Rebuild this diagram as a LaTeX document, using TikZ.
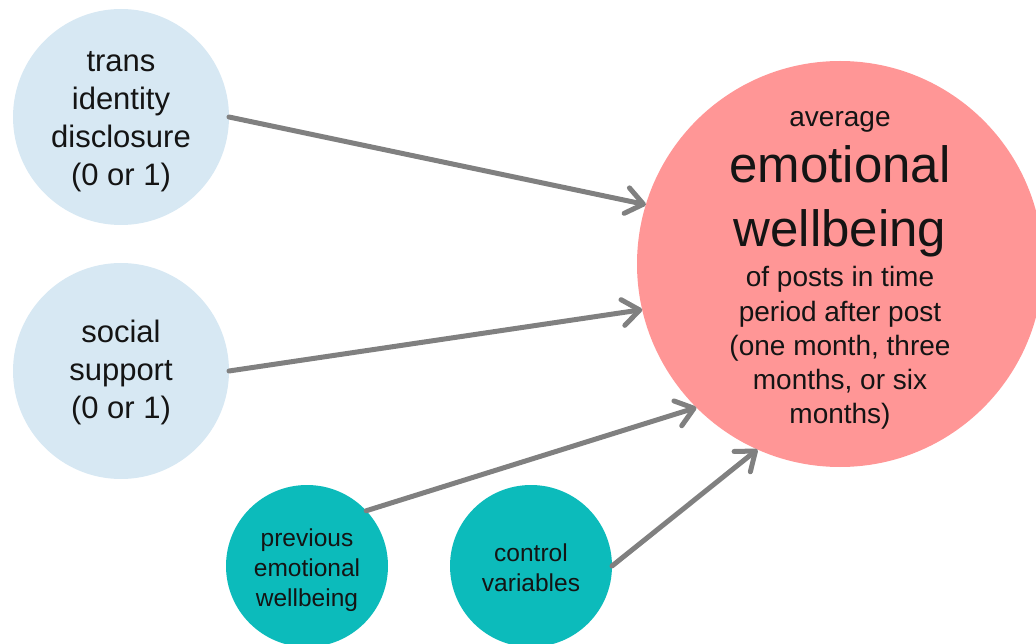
\documentclass[tikz,border=0pt]{standalone}
\usepackage{fontspec}
\setmainfont{Liberation Sans}
\usetikzlibrary{arrows.meta}
\definecolor{lblue}{RGB}{215,232,243}
\definecolor{salmon}{RGB}{255,150,150}
\definecolor{tealc}{RGB}{12,187,187}
\definecolor{agray}{RGB}{128,128,128}
\definecolor{tcol}{RGB}{20,20,20}
\begin{document}
\begin{tikzpicture}[x=1pt,y=-1pt,
  inp/.style={circle,fill=lblue,minimum size=216pt,inner sep=0pt,outer sep=0pt},
  inptext/.style={inner sep=0pt,outer sep=0pt,align=center,text=tcol,font=\fontsize{31}{38}\selectfont},
  ctl/.style={circle,fill=tealc,minimum size=162pt,inner sep=0pt,outer sep=0pt},
  ctltext/.style={inner sep=0pt,outer sep=0pt,align=center,text=tcol,font=\fontsize{24.5}{30}\selectfont},
  outc/.style={circle,fill=salmon,minimum size=406pt,inner sep=0pt,outer sep=0pt},
  txt/.style={anchor=base,inner sep=0pt,outer sep=0pt,text=tcol},
  small/.style={font=\fontsize{28}{34}\selectfont},
  big/.style={font=\fontsize{51}{62}\selectfont},
  conn/.style={draw=agray,line width=5pt,line cap=round,-{Straight Barb[length=17pt,width=26pt,round]}}]
\useasboundingbox (0,0) rectangle (1036,644);
\node[inp] (disc) at (121,117) {};
\node[inptext] (disct) at (121,122) {trans\\identity\\disclosure\\(0 or 1)};
\node[inp] (supp) at (121,371) {};
\node[inptext] (suppt) at (121,372) {social\\support\\(0 or 1)};
\node[ctl] (prev) at (307,566) {};
\node[ctltext] (prevt) at (307,570) {previous\\emotional\\wellbeing};
\node[ctl] (ctrl) at (531,566) {};
\node[ctltext] (ctrlt) at (531,568) {control\\variables};
\node[outc] (out) at (840,264) {};
\node[txt,small] (l1) at (840,127) {average};
\node[txt,big] (l2) at (840,183) {emotional};
\node[txt,big] (l3) at (840,247) {wellbeing};
\node[txt,small] (l4) at (840,287) {of posts in time};
\node[txt,small] (l5) at (840,321) {period after post};
\node[txt,small] (l6) at (840,355) {(one month, three};
\node[txt,small] (l7) at (840,389) {months, or six};
\node[txt,small] (l8) at (840,423) {months)};
\draw[conn] (disc.east) -- (out.163.2);
\draw[conn] (supp.east) -- (out.193.6);
\draw[conn] (prev.43) -- (out.225.2);
\draw[conn] (ctrl.east) -- (out.246.2);
\end{tikzpicture}
\end{document}
